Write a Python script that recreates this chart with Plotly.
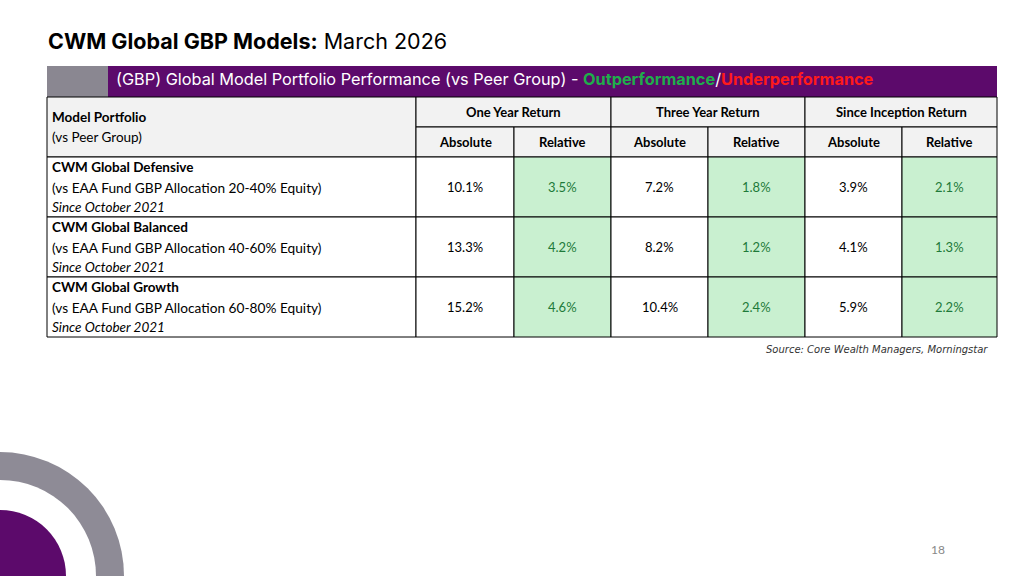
import plotly.graph_objects as go

# Model portfolio performance vs peer group (March 2026)
models = [
    {"name": "CWM Global Defensive", "peer": "(vs EAA Fund GBP Allocation 20-40% Equity)",
     "since": "Since October 2021", "vals": [10.1, 3.5, 7.2, 1.8, 3.9, 2.1]},
    {"name": "CWM Global Balanced", "peer": "(vs EAA Fund GBP Allocation 40-60% Equity)",
     "since": "Since October 2021", "vals": [13.3, 4.2, 8.2, 1.2, 4.1, 1.3]},
    {"name": "CWM Global Growth", "peer": "(vs EAA Fund GBP Allocation 60-80% Equity)",
     "since": "Since October 2021", "vals": [15.2, 4.6, 10.4, 2.4, 5.9, 2.2]},
]
groups = ["One Year Return", "Three Year Return", "Since Inception Return"]

PURPLE = "#5c0a6b"
GREEN_FILL = "#c9f0d0"
FONT = "Lato"
cols = [47, 416, 514, 611, 708, 805, 902, 997]
top, bar_bot, h1, h2 = 66, 97, 127, 157
row_h = 60

shapes, ann = [], []

def rect(x0, y0, x1, y1, fill, line="black", w=1):
    shapes.append(dict(type="rect", x0=x0, y0=y0, x1=x1, y1=y1, fillcolor=fill,
                       line=dict(color=line, width=w), layer="below"))

def text(x, y, s, size=12, color="black", xa="center", bold=False, italic=False, family=FONT):
    if bold:
        s = "<b>" + s + "</b>"
    if italic:
        s = "<i>" + s + "</i>"
    ann.append(dict(x=x, y=y, text=s, showarrow=False, xanchor=xa, yanchor="middle",
                    font=dict(size=size, color=color, family=family)))

# title
ann.append(dict(x=46, y=41, xanchor="left", yanchor="middle", showarrow=False,
                text="<b>CWM Global GBP Models:</b> March 2026",
                font=dict(size=21.5, color="black", family="Inter")))

# purple header bar
rect(cols[0], top, cols[-1], bar_bot, PURPLE, line=PURPLE, w=0)
rect(cols[0], top, 108, bar_bot, "#8a8791", line="#8a8791", w=0)
ann.append(dict(x=114, y=79, xanchor="left", yanchor="middle", showarrow=False,
                text="(GBP) Global Model Portfolio Performance (vs Peer Group) - "
                     "<b><span style='color:#1fae4b'>Outperformance</span></b>/"
                     "<b><span style='color:#ff1a1a'>Underperformance</span></b>",
                font=dict(size=16.3, color="white", family="Inter")))

# column header cells
rect(cols[0], bar_bot, cols[1], h2, "#f2f2f2")
for g in range(3):
    rect(cols[1 + 2 * g], bar_bot, cols[3 + 2 * g], h1, "#f2f2f2")
    text((cols[1 + 2 * g] + cols[3 + 2 * g]) / 2, 112, groups[g], 13, bold=True)
    for k, lab in enumerate(["Absolute", "Relative"]):
        c = 1 + 2 * g + k
        rect(cols[c], h1, cols[c + 1], h2, "#f2f2f2")
        text((cols[c] + cols[c + 1]) / 2, 142, lab, 13, bold=True)
text(50, 117, "Model Portfolio", 13.5, xa="left", bold=True)
text(50, 137, "(vs Peer Group)", 13.5, xa="left")

# data rows
for i, m in enumerate(models):
    y0 = h2 + i * row_h
    rect(cols[0], y0, cols[1], y0 + row_h, "white")
    text(50, y0 + 10, m["name"], 13.5, xa="left", bold=True)
    text(50, y0 + 30, m["peer"], 13.7, xa="left")
    text(50, y0 + 50, m["since"], 13.5, xa="left", italic=True)
    for c, v in enumerate(m["vals"]):
        rel = c % 2 == 1
        rect(cols[c + 1], y0, cols[c + 2], y0 + row_h, GREEN_FILL if rel else "white")
        text((cols[c + 1] + cols[c + 2]) / 2, y0 + 30, f"{v:.1f}%", 13,
             color="#1e7a3a" if rel else "black")

text(990, 349, "Source: Core Wealth Managers, Morningstar", 10, xa="right", italic=True,
     color="#333333", family="DejaVu Sans")
text(938, 549, "18", 12, color="#888888")

# decorative circles bottom-left
shapes.append(dict(type="circle", x0=-124, y0=452, x1=124, y1=700, fillcolor="#8e8b96",
                   line=dict(width=0), layer="below"))
shapes.append(dict(type="circle", x0=-96, y0=480, x1=96, y1=672, fillcolor="white",
                   line=dict(width=0), layer="below"))
shapes.append(dict(type="circle", x0=-66, y0=510, x1=66, y1=642, fillcolor=PURPLE,
                   line=dict(width=0), layer="below"))

fig = go.Figure()
fig.update_layout(
    width=1024, height=576, margin=dict(l=0, r=0, t=0, b=0),
    paper_bgcolor="white", plot_bgcolor="white", showlegend=False,
    xaxis=dict(range=[0, 1024], visible=False, fixedrange=True),
    yaxis=dict(range=[576, 0], visible=False, fixedrange=True),
    shapes=shapes, annotations=ann,
)
fig.write_html("out.html", config={"displayModeBar": False},
               post_script="document.body.style.margin='0';")
